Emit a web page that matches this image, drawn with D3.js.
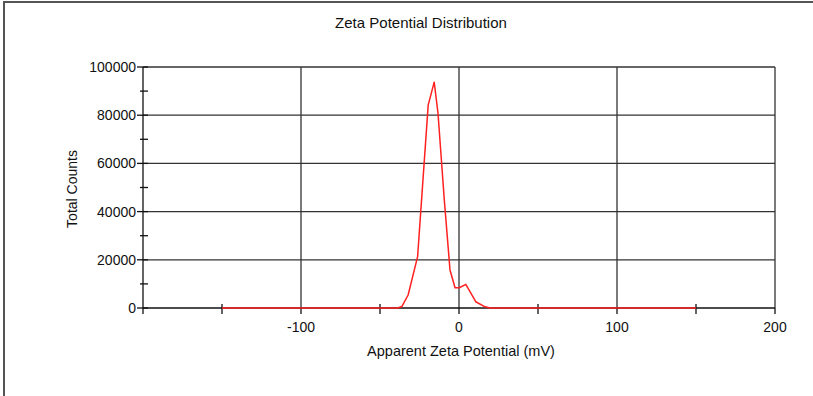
<!DOCTYPE html>
<html>
<head>
<meta charset="utf-8">
<script src="https://cdn.jsdelivr.net/npm/d3@7"></script>
<style>
  body { margin: 0; background: #fff; }
  svg { display: block; font-family: "Liberation Sans", Arial, sans-serif; }
</style>
</head>
<body>
<div id="chart"></div>
<script>
// zeta potential (mV) and total counts
const zeta = [-150, -60, -38.7, -36.2, -32.2, -26.2, -19.5, -15.7, -13.3, -9.3, -5.7, -2.5, 0.2, 4.3, 10.6, 16.5, 19.7, 60, 150];
const counts = [0, 0, 0, 600, 5400, 21300, 84200, 93700, 80900, 44800, 15800, 8400, 8400, 9800, 2600, 500, 0, 0, 0];

const xMajor = [-100, 0, 100, 200];
const xMinor = [-150, -50, 50, 150];
const yMajor = [0, 20000, 40000, 60000, 80000, 100000];
const yMinor = [10000, 30000, 50000, 70000, 90000];

const W = 813, H = 396;
const m = { left: 143, right: 38, top: 67, bottom: 88 };

const svg = d3.select("#chart").append("svg")
    .attr("width", W).attr("height", H);

// outer frame (top and left edges only show in the reference)
svg.append("path")
    .attr("d", `M4,${H} L4,2 L${W},2`)
    .attr("fill", "none")
    .attr("stroke", "#555")
    .attr("stroke-width", 2);

const x = d3.scaleLinear().domain([-200, 200]).range([m.left, W - m.right]);
const y = d3.scaleLinear().domain([0, 100000]).range([H - m.bottom, m.top]);

const ink = "#111";

// grid
const grid = svg.append("g").attr("stroke", "#333").attr("stroke-width", 1.3);
grid.selectAll("line.h").data(yMajor.slice(1)).enter().append("line")
    .attr("x1", x(-200)).attr("x2", x(200))
    .attr("y1", d => y(d)).attr("y2", d => y(d));
grid.selectAll("line.v").data(xMajor).enter().append("line")
    .attr("x1", d => x(d)).attr("x2", d => x(d))
    .attr("y1", y(0)).attr("y2", y(100000));

// x axis
const xAxis = svg.append("g").attr("stroke", ink).attr("stroke-width", 1.3);
xAxis.append("line").attr("x1", x(-200)).attr("x2", x(200)).attr("y1", y(0)).attr("y2", y(0));
xAxis.selectAll("line.maj").data(xMajor.concat([-200])).enter().append("line")
    .attr("x1", d => x(d)).attr("x2", d => x(d))
    .attr("y1", y(0)).attr("y2", y(0) + 6);
xAxis.selectAll("line.min").data(xMinor).enter().append("line")
    .attr("x1", d => x(d)).attr("x2", d => x(d))
    .attr("y1", y(0) - 4).attr("y2", y(0) + 6);

svg.append("g").selectAll("text").data(xMajor).enter().append("text")
    .attr("x", d => x(d)).attr("y", y(0) + 24)
    .attr("text-anchor", "middle")
    .attr("font-size", 14).attr("fill", ink)
    .text(d => d);

// y axis
const yAxis = svg.append("g").attr("stroke", ink).attr("stroke-width", 1.3);
yAxis.append("line").attr("x1", x(-200)).attr("x2", x(-200)).attr("y1", y(0)).attr("y2", y(100000));
yAxis.selectAll("line.maj").data(yMajor).enter().append("line")
    .attr("x1", x(-200) - 6).attr("x2", x(-200) + 5)
    .attr("y1", d => y(d)).attr("y2", d => y(d));
yAxis.selectAll("line.min").data(yMinor).enter().append("line")
    .attr("x1", x(-200) - 3).attr("x2", x(-200) + 5)
    .attr("y1", d => y(d)).attr("y2", d => y(d));

svg.append("g").selectAll("text").data(yMajor).enter().append("text")
    .attr("x", x(-200) - 7).attr("y", d => y(d) + 5)
    .attr("text-anchor", "end")
    .attr("font-size", 14).attr("fill", ink)
    .text(d => d);

// data line
const line = d3.line().x((d, i) => x(zeta[i])).y(d => y(d));
svg.append("path")
    .datum(counts)
    .attr("d", line)
    .attr("fill", "none")
    .attr("stroke", "#ff2020")
    .attr("stroke-width", 1.5)
    .attr("stroke-linejoin", "round");

// titles
svg.append("text")
    .attr("x", 421).attr("y", 28)
    .attr("text-anchor", "middle")
    .attr("font-size", 15).attr("fill", ink)
    .text("Zeta Potential Distribution");

svg.append("text")
    .attr("x", 461).attr("y", 356)
    .attr("text-anchor", "middle")
    .attr("font-size", 14.5).attr("fill", ink)
    .text("Apparent Zeta Potential (mV)");

svg.append("text")
    .attr("transform", `translate(77,189) rotate(-90)`)
    .attr("text-anchor", "middle")
    .attr("font-size", 14).attr("fill", ink)
    .text("Total Counts");
</script>
</body>
</html>
